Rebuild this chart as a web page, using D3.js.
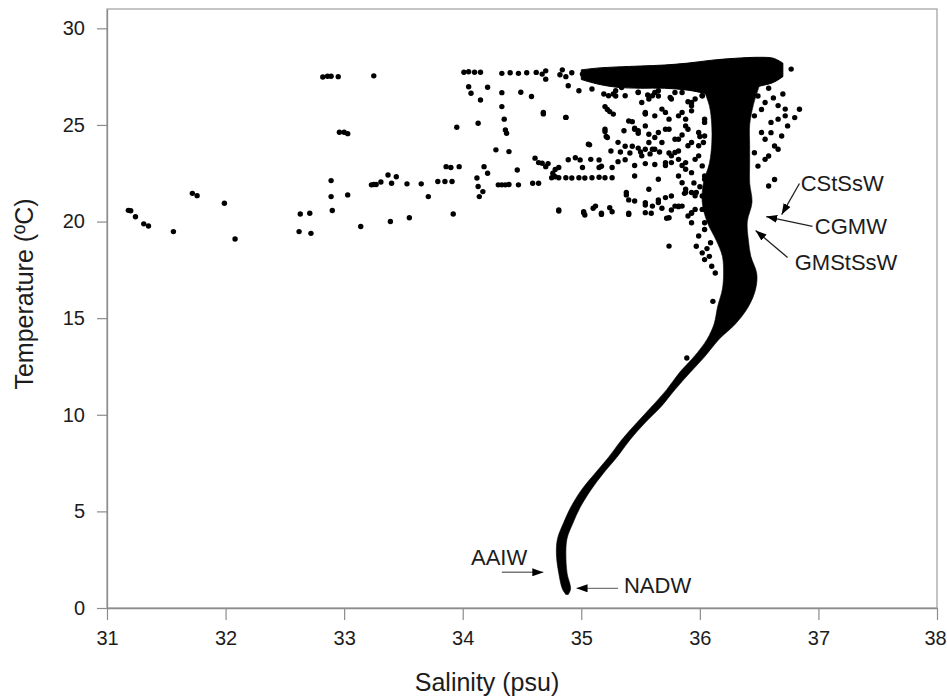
<!DOCTYPE html>
<html>
<head>
<meta charset="utf-8">
<script src="https://cdn.jsdelivr.net/npm/d3@7"></script>
<style>
  body { margin: 0; background: #fff; }
  text { font-family: "Liberation Sans", Arial, sans-serif; fill: #1c1c1c; }
</style>
</head>
<body>
<div id="chart"></div>
<script>
// T-S diagram: salinity (psu) against temperature (ºC)

// axis ticks
var salTicks = [31, 32, 33, 34, 35, 36, 37, 38];
var tempTicks = [0, 5, 10, 15, 20, 25, 30];

// dense core of the curve: salinity range at each temperature level
var coreT     = [0.7, 1.0, 1.8, 2.8, 3.6, 4.4, 5.2, 6.1, 7.0, 7.8, 8.7, 9.6, 10.4, 11.3, 12.2, 13.0, 13.9, 14.7, 15.6, 16.5, 17.3, 18.2, 19.0, 20.0, 21.0, 22.0, 23.0, 24.0, 25.0, 26.0, 27.0];
var coreSalLo = [34.87, 34.84, 34.81, 34.79, 34.80, 34.85, 34.91, 35.00, 35.12, 35.23, 35.34, 35.47, 35.59, 35.72, 35.83, 35.95, 36.06, 36.12, 36.15, 36.19, 36.20, 36.19, 36.14, 36.06, 36.02, 36.03, 36.08, 36.10, 36.10, 36.08, 36.02];
var coreSalHi = [34.89, 34.91, 34.88, 34.87, 34.88, 34.93, 34.99, 35.08, 35.19, 35.30, 35.41, 35.54, 35.67, 35.79, 35.92, 36.04, 36.16, 36.30, 36.41, 36.47, 36.48, 36.43, 36.41, 36.40, 36.44, 36.42, 36.42, 36.42, 36.42, 36.45, 36.50];

// dense surface band: temperature range at each salinity
var bandSal = [35.0, 35.15, 35.3, 35.5, 35.7, 35.9, 36.1, 36.3, 36.5, 36.62, 36.7];
var bandTLo = [27.35, 27.1, 26.95, 26.9, 26.9, 26.8, 26.6, 26.7, 27.0, 27.2, 27.5];
var bandTHi = [27.85, 27.95, 28.0, 28.05, 28.1, 28.2, 28.35, 28.45, 28.5, 28.45, 28.2];

// scattered samples [salinity, temperature]
var farLeftPts = [[31.18,20.58],[31.20,20.56],[31.24,20.25],[31.31,19.88],[31.35,19.77],[31.56,19.48],[31.72,21.46],[31.76,21.34],[31.99,20.95],[32.08,19.10],[32.62,19.48],[32.63,20.39],[32.71,20.43],[32.72,19.39],[32.82,27.48],[32.86,27.52],[32.89,27.52],[32.95,27.50],[33.25,27.54],[32.96,24.62],[33.00,24.62],[33.03,24.55],[32.89,22.12],[32.89,21.29],[32.90,20.57],[33.03,21.38],[33.14,19.74],[33.23,21.90],[33.25,21.92],[33.27,21.92],[33.31,22.05],[33.37,22.41],[33.40,21.98],[33.44,22.32],[33.39,20.00],[33.53,21.95],[33.55,20.20]];

var midPts = [[33.65,21.95],[33.71,21.29],[33.79,22.07],[33.85,22.07],[33.91,22.07],[33.86,22.84],[33.90,22.80],[33.97,22.84],[33.92,20.39],[33.95,24.88],[34.01,27.73],[34.05,27.75],[34.10,27.73],[34.15,27.73],[34.05,26.98],[34.07,26.64],[34.15,26.29],[34.13,25.09],[34.12,22.25],[34.13,21.81],[34.17,21.55],[34.18,22.84],[34.21,22.50],[34.21,26.95],[34.14,21.29],[34.30,21.90],[34.33,21.90],[34.36,21.90],[34.39,21.92],[34.33,26.67],[34.33,25.95],[34.35,25.30],[34.36,24.74],[34.37,24.57],[34.28,23.71],[34.39,23.62],[34.33,27.67],[34.40,27.70],[34.47,27.67],[34.54,27.70],[34.62,27.72],[34.70,27.80],[34.46,22.67],[34.47,21.90],[34.49,26.69],[34.58,26.47],[34.61,23.28],[34.59,21.98],[34.64,21.98],[34.68,25.57],[34.67,23.02],[34.70,22.84],[34.76,22.50],[34.78,22.32],[34.81,20.60],[34.87,25.39],[34.84,27.85]];

var streakPts = [[34.75,22.27],[34.81,22.27],[34.87,22.27],[34.92,22.25],[34.98,22.27],[35.03,22.25],[35.09,22.27],[35.15,22.29],[35.20,22.27],[35.26,22.27],[35.45,22.36],
  [34.64,23.05],[34.72,23.00],[34.78,22.70],[34.81,22.80],[34.89,23.20],[34.95,23.30],[35.01,22.80],[35.08,23.22],[35.15,22.80],[35.17,22.86],[35.26,22.80],[35.31,23.10],[35.37,23.20],[35.45,22.90],[35.54,23.00],[35.62,22.95],[35.71,22.90],[35.76,23.05],[35.85,22.90],
  [34.81,20.54],[35.02,20.46],[35.12,20.80],[35.17,20.37],[35.24,20.72],[35.40,20.37],[35.54,20.46],[35.74,20.20],[35.82,20.80],[35.93,20.46],[35.38,21.50],[35.45,21.06],[35.54,20.98],[35.60,20.80],[35.71,21.24],[35.79,20.80],[35.88,21.50],[35.96,21.33],[35.02,20.51],[35.03,20.34],[35.10,20.69],[35.17,20.43],[35.26,20.51],[35.38,21.38],[35.40,21.12],[35.40,20.43],[35.54,20.86],[35.59,20.43],[35.65,21.12],[35.68,20.69],[35.72,20.17],[35.76,20.60],[35.82,20.77],[35.87,21.46],[35.93,20.43],
  [35.20,24.78],[35.22,24.35],[35.06,24.00],[35.31,24.10],[35.37,23.90],[35.43,23.90],[35.48,23.80],[35.54,23.74],[35.60,23.74],[35.36,24.70],[35.45,24.78],[35.57,24.52],[35.62,24.35],[34.99,23.19],[35.15,23.19],[35.07,23.97],[35.20,25.95],[35.24,25.69],[35.20,24.66],[35.21,24.40],[35.29,26.50],[35.43,25.17],[35.45,24.83],[35.48,24.57],[35.54,25.60],[35.85,24.48],[34.68,25.65],[34.87,25.39],[35.22,25.80],[35.27,25.56],[35.40,25.20],[35.48,24.70],[35.54,25.56],[35.62,25.47],[35.27,26.60],[35.48,26.70],[35.56,26.55],[35.65,26.50],[34.67,27.63],[34.70,27.37],[34.82,27.60],[34.87,27.50],[34.92,27.70],[35.01,27.63],
  [35.25,23.65],[35.33,23.60],[35.41,23.55],[35.50,23.60],[35.58,23.50],[35.66,23.60],[35.74,23.55],[35.82,23.65]];

var shoulderPts = [[35.51,26.16],[35.60,26.51],[35.68,25.82],[35.76,26.34],[35.85,25.65],[35.93,25.99],[36.02,26.51],[35.54,24.95],[35.65,24.61],[35.74,25.30],[35.82,24.26],[35.90,24.78],[35.99,23.92],[36.04,25.13],[35.51,23.40],[35.62,23.74],[35.71,23.05],[35.79,23.57],[35.88,22.71],[35.96,23.22],[36.04,22.36],[35.57,21.67],[35.65,20.98],[35.76,21.32],[35.85,20.80],[35.93,21.50],[36.02,20.63],[35.74,18.73],[35.93,19.94],[35.99,19.25],[35.95,22.00],[36.00,24.40],[35.98,26.90],[35.90,26.20],[36.00,21.80],
  [35.09,26.86],[35.19,26.60],[35.29,26.77],[35.37,26.51],[35.48,26.68],[35.57,26.34],[35.65,26.77],[35.75,26.42],[35.85,26.68],[35.93,26.16],[36.02,26.51],
  [35.71,25.65],[35.82,25.47],[35.93,25.73],[36.04,25.30],[35.74,24.78],[35.88,24.95],[35.99,24.61],[35.68,24.09],[35.79,24.26],[35.90,23.92],[36.03,24.09],[35.76,23.40],[35.88,23.05],[35.99,23.40],[35.82,22.36],[35.93,22.53],[36.04,22.19],[35.88,21.67],[36.02,21.32],[35.96,20.63],[36.04,19.94],
  [35.79,26.68],[35.88,25.30],[35.96,26.34],[36.04,24.43],[35.82,23.22],[35.93,24.09],[36.02,22.88],[35.85,22.01],[35.97,21.50],[36.07,20.80],[35.90,20.29],[36.04,19.59],[36.09,18.90],[35.65,22.19],[35.57,24.09],[35.71,24.78],[35.54,25.65],[35.62,26.68],[35.74,27.20],
  [34.89,27.03],[34.98,26.77],[35.23,26.51],[35.34,26.94]];

var rightPts = [[36.77,27.89],[36.84,25.81],[36.80,25.38],[36.74,24.95],[36.69,24.43],[36.66,25.30],[36.63,23.91],[36.58,23.39],[36.72,25.47],[36.60,24.60],[36.55,24.26],[36.63,22.18],[36.58,21.84],[36.49,26.50],[36.55,26.16],[36.41,26.85],[36.46,23.56],[36.49,22.87],[36.46,25.47],[36.52,24.61],[36.60,25.13],[36.66,23.74],[36.72,25.82],[36.55,23.22],
  [36.62,26.40],[36.66,26.00],[36.52,25.80],[36.70,26.60],[36.58,26.90]];

var fringePts = [[35.97,18.72],[36.02,18.38],[36.04,18.03],[36.10,17.69],[36.13,17.34],[36.11,15.87],[35.89,12.94],[36.06,18.60],[36.08,18.20]];

// water mass labels: text position and arrow (from -> to), in data units
var massNames = ["AAIW", "NADW", "CStSsW", "CGMW", "GMStSsW"];
var labelSal  = [34.07, 35.36, 36.85, 36.97, 36.80];
var labelTemp = [2.21, 0.76, 21.56, 19.33, 17.50];
var arrowFrom = [[34.33, 1.85], [35.31, 1.02], [36.84, 21.97], [36.95, 19.75], [36.74, 18.14]];
var arrowTo   = [[34.68, 1.85], [34.96, 1.02], [36.69, 20.36], [36.56, 20.26], [36.47, 19.54]];

var w = 947, h = 700;
var margin = {left: 107, top: 9, right: 10, bottom: 92};
var iw = w - margin.left - margin.right;
var ih = h - margin.top - margin.bottom;

var svg = d3.select("#chart").append("svg")
  .attr("width", w)
  .attr("height", h);

var x = d3.scaleLinear().domain([31, 38]).range([0, iw]);
var y = d3.scaleLinear().domain([0, 31]).range([ih, 0]);

var g = svg.append("g").attr("transform", "translate(" + margin.left + "," + margin.top + ")");

// frame
g.append("rect")
  .attr("width", iw).attr("height", ih)
  .attr("fill", "none").attr("stroke", "#a5a5a5").attr("stroke-width", 1.3);

// axes
var xAxis = g.append("g").attr("transform", "translate(0," + ih + ")")
  .call(d3.axisBottom(x).tickValues(salTicks).tickFormat(d3.format("d"))
    .tickSize(12).tickPadding(11).tickSizeOuter(0));
var yAxis = g.append("g")
  .call(d3.axisLeft(y).tickValues(tempTicks).tickFormat(d3.format("d"))
    .tickSize(10).tickPadding(12).tickSizeOuter(0));
[xAxis, yAxis].forEach(function(a) {
  a.select(".domain").attr("stroke", "#8c8c8c").attr("stroke-width", 1.3);
  a.selectAll(".tick line").attr("stroke", "#8c8c8c").attr("stroke-width", 1.2);
  a.selectAll(".tick text").attr("font-size", "20px").attr("fill", "#1c1c1c")
    .style("font-family", "'Liberation Sans', Arial, sans-serif");
});
// keep the last salinity label inside the picture
xAxis.selectAll(".tick text").filter(function(d) { return d === 38; }).attr("dx", "-2");

// dense core
var core = coreT.map(function(t, i) { return {t: t, lo: coreSalLo[i], hi: coreSalHi[i]}; });
g.append("path")
  .datum(core)
  .attr("fill", "#000")
  .attr("stroke", "#000")
  .attr("stroke-width", 0.6)
  .attr("d", d3.area().curve(d3.curveCatmullRom)
    .y(function(d) { return y(d.t); })
    .x0(function(d) { return x(d.lo); })
    .x1(function(d) { return x(d.hi); }));

// dense surface band
var band = bandSal.map(function(s, i) { return {s: s, lo: bandTLo[i], hi: bandTHi[i]}; });
g.append("path")
  .datum(band)
  .attr("fill", "#000")
  .attr("stroke", "#000")
  .attr("stroke-width", 1)
  .attr("d", d3.area().curve(d3.curveCatmullRom)
    .x(function(d) { return x(d.s); })
    .y0(function(d) { return y(d.lo); })
    .y1(function(d) { return y(d.hi); }));

// scattered samples
var allPts = farLeftPts.concat(midPts, streakPts, shoulderPts, rightPts, fringePts);
g.selectAll("circle.pt")
  .data(allPts)
  .enter()
  .append("circle")
  .attr("class", "pt")
  .attr("cx", function(d) { return x(d[0]); })
  .attr("cy", function(d) { return y(d[1]); })
  .attr("r", 2.7)
  .attr("fill", "#000");

// arrowhead
svg.append("defs").append("marker")
  .attr("id", "head")
  .attr("markerUnits", "userSpaceOnUse")
  .attr("markerWidth", 11).attr("markerHeight", 8)
  .attr("refX", 11).attr("refY", 4)
  .attr("orient", "auto")
  .append("path")
  .attr("d", "M0,0 L11,4 L0,8 Z")
  .attr("fill", "#000");

// water mass labels
g.selectAll("line.arrow")
  .data(massNames)
  .enter()
  .append("line")
  .attr("class", "arrow")
  .attr("x1", function(d, i) { return x(arrowFrom[i][0]); })
  .attr("y1", function(d, i) { return y(arrowFrom[i][1]); })
  .attr("x2", function(d, i) { return x(arrowTo[i][0]); })
  .attr("y2", function(d, i) { return y(arrowTo[i][1]); })
  .attr("stroke", function(d, i) { return i < 2 ? "#777" : "#222"; })
  .attr("stroke-width", 1.3)
  .attr("marker-end", "url(#head)");

g.selectAll("text.mass")
  .data(massNames)
  .enter()
  .append("text")
  .attr("class", "mass")
  .attr("x", function(d, i) { return x(labelSal[i]); })
  .attr("y", function(d, i) { return y(labelTemp[i]); })
  .attr("font-size", "22px")
  .text(function(d) { return d; });

// axis titles
svg.append("text")
  .attr("x", 487).attr("y", 691)
  .attr("text-anchor", "middle")
  .attr("font-size", "25px")
  .text("Salinity (psu)");

svg.append("text")
  .attr("transform", "translate(33,294) rotate(-90)")
  .attr("text-anchor", "middle")
  .attr("font-size", "25px")
  .text("Temperature (ºC)");
</script>
</body>
</html>
